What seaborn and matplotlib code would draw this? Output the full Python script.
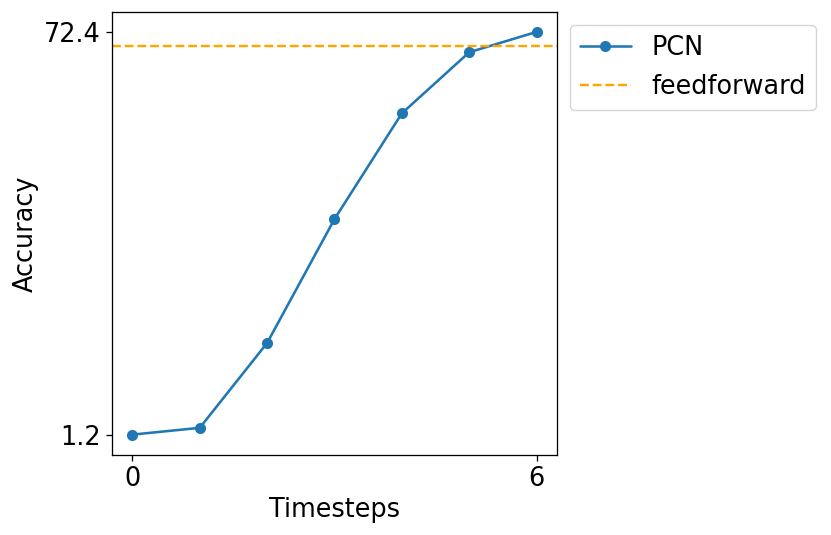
import matplotlib
matplotlib.use('Agg')
import matplotlib.pyplot as plt
import seaborn as sns
import pandas as pd

timesteps = [0, 1, 2, 3, 4, 5, 6]
pcn_accuracy = [1.2, 2.4, 17.4, 39.3, 58.0, 68.8, 72.4]
feedforward_accuracy = 69.9
x_ticks = [0, 6]
y_ticks = [1.2, 72.4]

sns.set_style('ticks')
k = 1.15  # original figure was rendered at a higher dpi
plt.rcParams['font.family'] = ['DejaVu Sans']
plt.rcParams['font.size'] = 16 * k
plt.rcParams['text.color'] = 'black'
plt.rcParams['axes.labelcolor'] = 'black'
plt.rcParams['xtick.color'] = 'black'
plt.rcParams['ytick.color'] = 'black'
plt.rcParams['xtick.major.size'] = 3.5 * k
plt.rcParams['ytick.major.size'] = 3.5 * k
plt.rcParams['xtick.major.width'] = 0.8 * k
plt.rcParams['ytick.major.width'] = 0.8 * k
plt.rcParams['xtick.major.pad'] = 3.5 * k
plt.rcParams['ytick.major.pad'] = 3.5 * k

df = pd.DataFrame({'Timesteps': timesteps, 'Accuracy': pcn_accuracy})

fig = plt.figure(figsize=(8.31, 5.35), dpi=100)
ax = fig.add_axes([0.135, 0.150, 0.535, 0.828])
sns.lineplot(data=df, x='Timesteps', y='Accuracy', marker='o', markersize=8,
             markeredgewidth=0, color='#1f77b4', linewidth=1.6 * k, label='PCN', ax=ax)
ax.axhline(feedforward_accuracy, color='orange', linestyle='--', linewidth=1.5 * k,
           label='feedforward')
ax.set_xticks(x_ticks)
ax.set_yticks(y_ticks)
ax.set_yticklabels([str(v) for v in y_ticks])
ax.tick_params(labelsize=16 * k)
ax.set_xlabel('Timesteps', fontsize=16 * k)
ax.set_ylabel('Accuracy', fontsize=16 * k)
for s in ax.spines.values():
    s.set_color('black')
    s.set_linewidth(0.8 * k)
ax.legend(loc='upper left', bbox_to_anchor=(1.0, 1.0), fontsize=16 * k)
fig.savefig('out.png', dpi=100)
